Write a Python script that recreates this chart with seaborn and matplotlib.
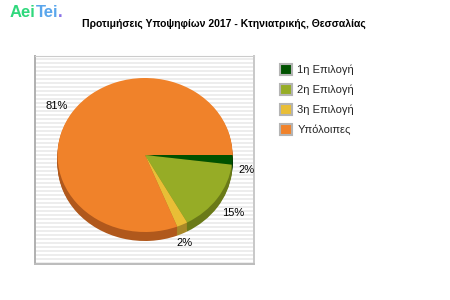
import numpy as np
import matplotlib
matplotlib.use("Agg")
import matplotlib.pyplot as plt
from matplotlib.patches import Patch
import seaborn as sns

# ---- data ----
categories = ["1η Επιλογή", "2η Επιλογή", "3η Επιλογή", "Υπόλοιπες"]
values = [2, 15, 2, 81]
title = "Προτιμήσεις Υποψηφίων 2017 - Κτηνιατρικής, Θεσσαλίας"

top_colors = sns.color_palette(["#005200", "#96ac26", "#e9be36", "#f0822a"])
side_colors = sns.color_palette(["#003800", "#6a7a18", "#a88828", "#b0581c"])

sns.set_theme(style="white")
plt.rcParams["font.family"] = ["Liberation Sans", "DejaVu Sans"]

W, H = 450, 300
fig = plt.figure(figsize=(4.5, 3), dpi=100)
fig.patch.set_facecolor("white")


def px_axes(x, y, w, h, **kw):
    return fig.add_axes([x / W, 1 - (y + h) / H, w / W, h / H], **kw)


# ---- striped plot background ----
bx, by, bw, bh = 35, 56, 219, 208
bg = px_axes(bx, by, bw, bh)
rows = np.array([[1.0], [1.0], [0.93], [0.93]])
stripes = np.tile(rows, (bh // 4 + 1, 1))[:bh]
bg.imshow(np.repeat(stripes[:, :, None], 3, axis=2), aspect="auto",
          interpolation="nearest", extent=(0, 1, 0, 1))
bg.set_xticks([])
bg.set_yticks([])
for side, (lw, col) in {"left": (1.4, "#b0b0b0"), "bottom": (1.4, "#bcbcbc"),
                        "top": (0.8, "#cccccc"), "right": (1.4, "#c8c8c8")}.items():
    bg.spines[side].set_linewidth(lw)
    bg.spines[side].set_color(col)

# ---- 3D-ish pie ----
rx, ry = 87.5, 77.0
cx, cy = 145, 155
xlim = (-1.2, 1.2)
ylim = (-1.3, 1.2)
aw = (xlim[1] - xlim[0]) * rx
ah = (ylim[1] - ylim[0]) * ry
ax = px_axes(cx + xlim[0] * rx, cy - ylim[1] * ry, aw, ah)
ax.patch.set_alpha(0)

depth_px = 9
step = 1.0 / ry
for k in range(depth_px, 0, -1):
    ax.pie(values, colors=side_colors, startangle=0, counterclock=False,
           center=(0, -k * step), radius=1, wedgeprops=dict(linewidth=0))
ax.pie(values, colors=top_colors, startangle=0, counterclock=False,
       center=(0, 0), radius=1, wedgeprops=dict(linewidth=0))
ax.set_aspect("auto")
ax.set_xlim(*xlim)
ax.set_ylim(*ylim)
ax.axis("off")

# labels
total = float(sum(values))
cum = 0.0
lrx, lry = 1.07, 1.14
for v in values:
    mid = -np.deg2rad((cum + v / 2) / total * 360)
    cum += v
    c, s = np.cos(mid), np.sin(mid)
    x = lrx * c
    y = lry * s - (depth_px * step if s < 0 else 0)
    ha = "left" if c > 0.5 else ("right" if c < -0.5 else "center")
    ax.text(x, y, f"{v}%", ha=ha, va="center", fontsize=8, color="black")

# ---- legend ----
handles = [Patch(facecolor=c, edgecolor="#b4b4b4", linewidth=1.5) for c in top_colors]
fig.legend(handles, categories, loc="upper left",
           bbox_to_anchor=(280 / W, 1 - 64 / H), frameon=False, fontsize=8,
           handlelength=1.1, handleheight=1.1, handletextpad=0.45,
           labelspacing=0.8, borderpad=0, borderaxespad=0)

# ---- title ----
fig.text(224 / W, 1 - 24 / H, title, ha="center", va="center",
         fontsize=7.5, fontweight="bold", color="black")

# ---- logo ----
renderer = fig.canvas.get_renderer()
xpos = 10
for part, col in [("Aei", "#2fd87c"), ("Tei", "#5aa6ec"), (".", "#8a72e6")]:
    t = fig.text(xpos / W, 1 - 17 / H, part, ha="left", va="baseline",
                 fontsize=12, fontweight="bold", color=col)
    bb = t.get_window_extent(renderer=renderer)
    xpos += bb.width

fig.savefig("out.png", dpi=100, facecolor="white")
